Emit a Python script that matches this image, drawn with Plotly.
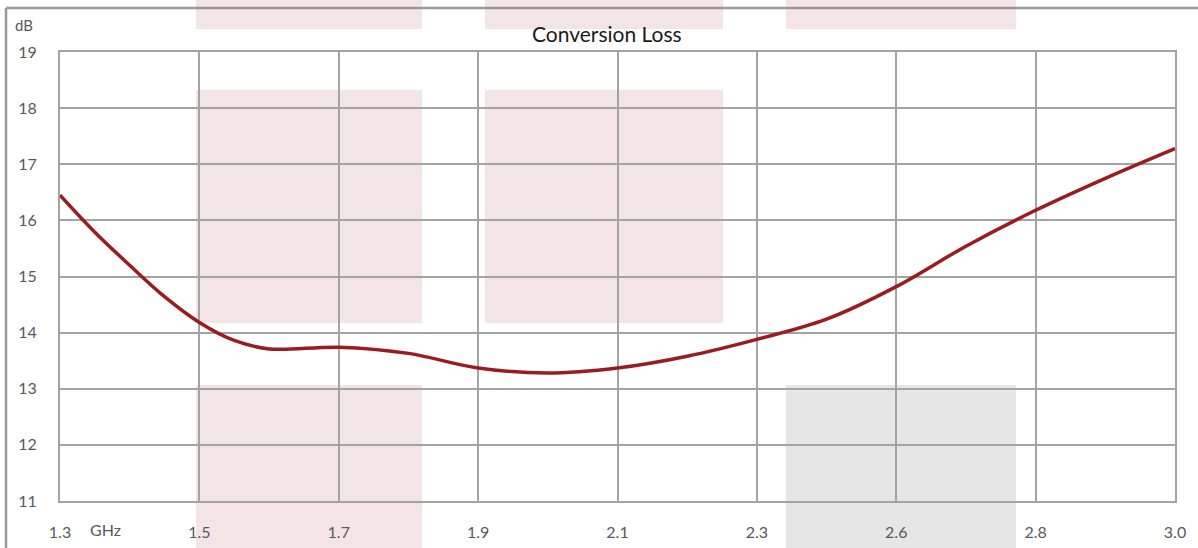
import plotly.graph_objects as go

# ---- data ----
freq_labels = ["1.3", "1.5", "1.7", "1.9", "2.1", "2.3", "2.6", "2.8", "3.0"]
tick_pos = [0, 1, 2, 3, 4, 5, 6, 7, 8]
sample_pos = [0, 0.25, 0.5, 0.75, 1, 1.25, 1.5, 2, 2.5, 3, 3.5, 4, 4.5, 5, 5.5, 6, 6.5, 7, 7.5, 8]
loss_db = [16.45, 15.79, 15.2, 14.64, 14.18, 13.86, 13.71, 13.74, 13.63, 13.37, 13.28, 13.37,
           13.58, 13.88, 14.24, 14.82, 15.54, 16.18, 16.75, 17.28]
y_ticks = [11, 12, 13, 14, 15, 16, 17, 18, 19]

W, H = 1198, 548
L, R, T, B = 60, 1175, 52, 501
def px(x):
    return (x - L) / (R - L)
def py(y):
    return (B - y) / (B - T)

fig = go.Figure()
fig.add_trace(go.Scatter(
    x=sample_pos, y=loss_db, mode="lines",
    line=dict(color="#9b1c1f", width=3.5, shape="spline", smoothing=1.0),
    hoverinfo="skip", showlegend=False,
))

grid = "#a3a3a3"
shapes = []
pink = "#f3e5e5"
gray = "#e6e6e6"
rects = [
    (196, -5, 422, 29, pink), (485, -5, 723, 29, pink), (786, -5, 1016, 29, pink),
    (196, 90, 422, 323, pink), (485, 90, 723, 323, pink),
    (196, 385, 422, 560, pink), (786, 385, 1016, 560, gray),
]
for x0, y0, x1, y1, c in rects:
    shapes.append(dict(type="rect", xref="paper", yref="paper",
                       x0=px(x0), x1=px(x1), y0=py(y1), y1=py(y0),
                       fillcolor=c, line=dict(width=0), layer="below"))
# outer frame: top edge and left edge
shapes.append(dict(type="line", xref="paper", yref="paper",
                   x0=px(6), x1=px(1198), y0=py(8), y1=py(8),
                   line=dict(color="#999999", width=2.5), layer="above"))
shapes.append(dict(type="line", xref="paper", yref="paper",
                   x0=px(6), x1=px(6), y0=py(8), y1=py(548),
                   line=dict(color="#999999", width=2.5), layer="above"))

font_family = "Lato, 'Open Sans', sans-serif"
fig.update_layout(
    width=W, height=H,
    margin=dict(l=L, r=W - R, t=T, b=H - B, pad=0, autoexpand=False),
    paper_bgcolor="white", plot_bgcolor="rgba(0,0,0,0)",
    font=dict(family=font_family, color="#595959", size=16),
    shapes=shapes,
    showlegend=False,
    annotations=[
        dict(text="Conversion Loss", xref="paper", yref="paper",
             x=px(607), y=py(33), xanchor="center", yanchor="middle",
             showarrow=False, font=dict(size=21, color="#1a1a1a", family=font_family)),
        dict(text="dB", xref="paper", yref="paper",
             x=px(13), y=py(25), xanchor="left", yanchor="middle",
             showarrow=False, font=dict(size=15, color="#595959")),
        dict(text="GHz", xref="paper", yref="paper",
             x=px(88), y=py(529), xanchor="left", yanchor="middle",
             showarrow=False, font=dict(size=16, color="#595959")),
    ],
)
fig.update_xaxes(
    range=[0, 8], tickmode="array", tickvals=tick_pos, ticktext=freq_labels,
    showgrid=True, gridcolor=grid, gridwidth=2,
    showline=True, linecolor=grid, linewidth=2, mirror=True,
    zeroline=False, ticks="", ticklabelstandoff=16, automargin=False,
)
fig.update_yaxes(
    range=[11, 19], tickmode="array", tickvals=y_ticks,
    showgrid=True, gridcolor=grid, gridwidth=2,
    showline=True, linecolor=grid, linewidth=2, mirror=True,
    zeroline=False, ticks="", ticklabelstandoff=18, automargin=False,
)

fig.write_html(
    "out.html",
    config={"displayModeBar": False},
    post_script="document.body.style.margin='0';document.body.style.overflow='hidden';",
)
